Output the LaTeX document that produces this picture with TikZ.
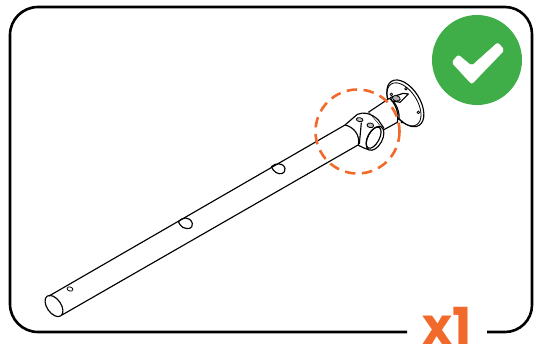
\documentclass[tikz,border=0pt]{standalone}
\usepackage{fontspec}
\setmainfont{Poppins}
\definecolor{okgreen}{HTML}{3FAE49}
\definecolor{accent}{HTML}{F26A2B}
\tikzset{
  frameline/.style={line width=2.6pt,black,line cap=butt},
  pipeline/.style={line width=1.15pt,black,line join=round},
  thinline/.style={line width=0.8pt,black,line join=round},
  zoomed/.style={xshift=300pt,yshift=-70pt,x=0.3333pt,y=-0.3333pt}
}
\begin{document}
\begin{tikzpicture}[x=1pt,y=-1pt]
\useasboundingbox (0,0) rectangle (540,349);
\fill[white] (0,0) rectangle (540,349);
% frame
\draw[frameline] (407,332) -- (38,332) arc[start angle=90,end angle=180,radius=28] -- (10,35)
  arc[start angle=180,end angle=270,radius=28] -- (505,7)
  arc[start angle=270,end angle=360,radius=27] -- (532,305)
  arc[start angle=0,end angle=90,radius=27] -- (487,332);
% green badge
\fill[okgreen] (477,60) circle[radius=45];
\fill[white,draw=white,line width=0.5pt,rounded corners=2pt] (458.3,55) -- (451.7,62.3) -- (471.7,84) -- (504.3,50) -- (497.7,42.7) -- (471.7,66) -- cycle;
% pipe
\draw[pipeline] (54,306) ellipse[x radius=12,y radius=7,rotate=-55];
\draw[pipeline] (49,296) -- (345,125);
\draw[pipeline] (62,315) -- (358,145);
\draw[thinline] (70,289) ellipse[x radius=3,y radius=2,rotate=-15];
% side holes
\draw[pipeline] (178.3,221.7) .. controls (182,217) and (190,216) .. (192.3,223.3)
   .. controls (193,229) and (188,229.5) .. (183,227.5) .. controls (181,226.5) and (179.5,224) .. (178.3,221.7);
\draw[pipeline] (271.3,166.7) .. controls (275,163) and (283,162) .. (285,168.5)
   .. controls (285.5,174) and (280,175) .. (276,172.5) .. controls (274,171.5) and (272.5,169) .. (271.3,166.7);
% flange, collar, drawn on the 3x crop grid
\begin{scope}[zoomed]
  % flange
  \draw[pipeline,fill=white] (316,100) ellipse[x radius=78,y radius=44,rotate=-58];
  \draw[thinline] (312,103) ellipse[x radius=72,y radius=40,rotate=-58];
  \draw[thinline] (318,56) circle[radius=4];
  \draw[thinline] (355,127) circle[radius=4];
  \draw[thinline] (274,73) circle[radius=4];
  \draw[thinline] (306,156) circle[radius=3];
  % tube to flange
  \draw[pipeline,fill=white] (205,127) -- (268,85) .. controls (285,98) and (298,128) .. (292,157) -- (250,180) -- cycle;
  \draw[draw=none,fill=white] (205,127) -- (250,180) -- (240,195) -- (190,140) -- cycle;
  \draw[pipeline] (274,88) .. controls (290,102) and (300,128) .. (297,150);
  % collar
  \draw[pipeline] (135,165) .. controls (160,170) and (182,195) .. (175,226);
  \draw[pipeline] (135,165) -- (172,133) .. controls (190,125) and (215,130) .. (235,150) -- (252,175);
  \draw[pipeline] (175,226) .. controls (185,232) and (195,235) .. (208,240);
  \draw[pipeline] (184,158) -- (178,222);
  \draw[pipeline,fill=white] (225,205) ellipse[x radius=39,y radius=22,rotate=62];
  \draw[pipeline] (221,203) ellipse[x radius=35,y radius=17,rotate=62];
  \draw[thinline,fill=black!25] (179,149) ellipse[x radius=10,y radius=6,rotate=-10];
  \draw[thinline,fill=black!25] (211,166) ellipse[x radius=10,y radius=7,rotate=-10];
  % bracket bolt
  \draw[pipeline,fill=white] (272,82) -- (310,70) -- (325,72) -- (300,97) -- (275,92) -- cycle;
  \draw[thinline,fill=black!30] (289,85) ellipse[x radius=12,y radius=8,rotate=-15];
\end{scope}
% highlight circle
\draw[accent,line width=2.6pt,dash pattern=on 10.5pt off 6.5pt] (357.5,131.5) circle[radius=42];
% quantity
\node[text=accent,font=\fontsize{51}{51}\selectfont\bfseries,inner sep=0pt,anchor=base] (qty) at (447,344) {x1};
\end{tikzpicture}
\end{document}
